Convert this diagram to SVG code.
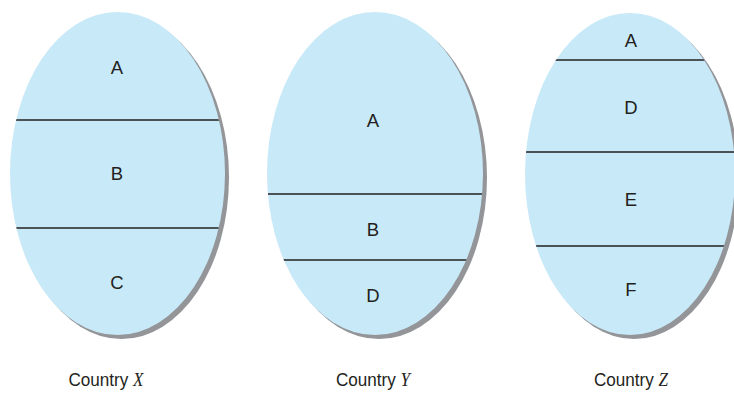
<svg xmlns="http://www.w3.org/2000/svg" width="734" height="404" viewBox="0 0 734 404">
<style>
.sh{fill:#939598}
.body{fill:#c8e9f8}
.div{stroke:#231f20;stroke-width:1.3;fill:none}
.lbl{font-family:"Liberation Sans",Arial,sans-serif;font-size:18.5px;fill:#231f20;text-anchor:middle}
.cap{font-family:"Liberation Sans",Arial,sans-serif;font-size:19px;fill:#231f20;text-anchor:middle}
.var{font-family:"Liberation Serif","Times New Roman",serif;font-style:italic;font-size:19px}
</style>
<defs>
<clipPath id="c1"><ellipse cx="117.5" cy="173.5" rx="107.5" ry="161.5"/></clipPath>
<clipPath id="c2"><ellipse cx="375" cy="173.5" rx="108" ry="161.5"/></clipPath>
<clipPath id="c3"><ellipse cx="630" cy="174" rx="105" ry="161"/></clipPath>
</defs>
<g id="countryX">
<ellipse class="sh" cx="121.5" cy="177.5" rx="107.5" ry="161.5"/>
<ellipse class="body" cx="117.5" cy="173.5" rx="107.5" ry="161.5"/>
<g clip-path="url(#c1)">
<line class="div" x1="0" y1="120" x2="240" y2="120"/>
<line class="div" x1="0" y1="228" x2="240" y2="228"/>
</g>
<text class="lbl" x="117" y="74">A</text>
<text class="lbl" x="117" y="179.5">B</text>
<text class="lbl" x="117" y="288.5">C</text>
<text class="cap" transform="translate(106,386) scale(0.9,1)">Country <tspan class="var">X</tspan></text>
</g>
<g id="countryY">
<ellipse class="sh" cx="379" cy="177.5" rx="108" ry="161.5"/>
<ellipse class="body" cx="375" cy="173.5" rx="108" ry="161.5"/>
<g clip-path="url(#c2)">
<line class="div" x1="260" y1="194" x2="490" y2="194"/>
<line class="div" x1="260" y1="260" x2="490" y2="260"/>
</g>
<text class="lbl" x="373" y="126.5">A</text>
<text class="lbl" x="373" y="235.5">B</text>
<text class="lbl" x="373" y="301.5">D</text>
<text class="cap" transform="translate(373,386) scale(0.9,1)">Country <tspan class="var">Y</tspan></text>
</g>
<g id="countryZ">
<ellipse class="sh" cx="634" cy="178" rx="105" ry="161"/>
<ellipse class="body" cx="630" cy="174" rx="105" ry="161"/>
<g clip-path="url(#c3)">
<line class="div" x1="515" y1="60" x2="745" y2="60"/>
<line class="div" x1="515" y1="152" x2="745" y2="152"/>
<line class="div" x1="515" y1="246" x2="745" y2="246"/>
</g>
<text class="lbl" x="631" y="46.5">A</text>
<text class="lbl" x="631" y="113.5">D</text>
<text class="lbl" x="631" y="205.5">E</text>
<text class="lbl" x="631" y="295.5">F</text>
<text class="cap" transform="translate(631,386) scale(0.9,1)">Country <tspan class="var">Z</tspan></text>
</g>
<g id="connectors"/>
</svg>
